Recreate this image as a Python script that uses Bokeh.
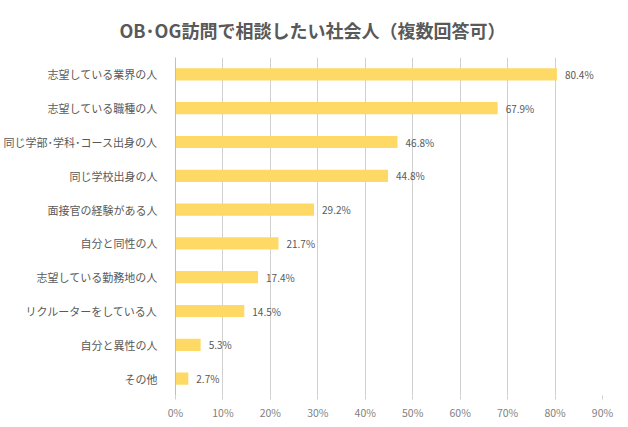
from bokeh.plotting import figure
from bokeh.models import Range1d, FactorRange, ColumnDataSource, FixedTicker, CustomJSTickFormatter
from bokeh.core.properties import value
from bokeh.embed import file_html
from bokeh.resources import INLINE

categories = ["志望している業界の人", "志望している職種の人", "同じ学部･学科･コース出身の人",
              "同じ学校出身の人", "面接官の経験がある人", "自分と同性の人",
              "志望している勤務地の人", "リクルーターをしている人", "自分と異性の人", "その他"]
values = [80.4, 67.9, 46.8, 44.8, 29.2, 21.7, 17.4, 14.5, 5.3, 2.7]
ticks = [0, 10, 20, 30, 40, 50, 60, 70, 80, 90]

FONT = "Noto Sans CJK JP"
GRAY = "#595959"

src = ColumnDataSource(dict(cat=categories, val=values,
                            lab=[f"{v:.1f}%" for v in values]))

p = figure(frame_width=427, frame_height=338, output_backend="svg", toolbar_location=None,
           y_range=FactorRange(*categories[::-1]), x_range=Range1d(0, 90),
           title="OB･OG訪問で相談したい社会人（複数回答可）",
           min_border_left=166, min_border_right=19, min_border_bottom=20, min_border_top=10)

p.title.align = "left"
p.title.offset = -56
p.title.text_font = FONT
p.title.text_font_size = "18px"
p.title.text_font_style = "bold"
p.title.text_color = GRAY
p.title.standoff = 29

p.hbar(y="cat", right="val", height=0.36, left=0, source=src, color="#FFD966", line_color=None)
p.text(x="val", y="cat", text="lab", source=src, x_offset=8, text_baseline="middle",
       text_font=value(FONT), text_font_size="10px", text_color=GRAY)

p.xaxis.ticker = FixedTicker(ticks=ticks)
p.xaxis.formatter = CustomJSTickFormatter(code="return tick + '%';")
p.xaxis.axis_line_color = None
p.xaxis.major_tick_line_color = "#d0d0d0"
p.xaxis.major_tick_out = 4
p.xaxis.major_tick_in = 0
p.xaxis.minor_tick_line_color = None
p.xaxis.major_label_text_font = FONT
p.xaxis.major_label_text_font_size = "10.5px"
p.xaxis.major_label_text_color = "#7f7f7f"
p.xaxis.major_label_standoff = 5

p.yaxis.axis_line_color = "#bfbfbf"
p.yaxis.major_tick_line_color = None
p.yaxis.minor_tick_line_color = None
p.yaxis.major_label_text_font = FONT
p.yaxis.major_label_text_font_size = "11px"
p.yaxis.major_label_text_color = GRAY
p.yaxis.major_label_standoff = 12

p.xgrid.ticker = FixedTicker(ticks=ticks)
p.xgrid.grid_line_color = "#d0d0d0"
p.xgrid.level = "image"
p.ygrid.grid_line_color = None
p.outline_line_color = None
p.border_fill_color = "white"
p.y_range.range_padding = 0
p.y_range.factor_padding = 0

open("out.html", "w").write(file_html(p, INLINE))
